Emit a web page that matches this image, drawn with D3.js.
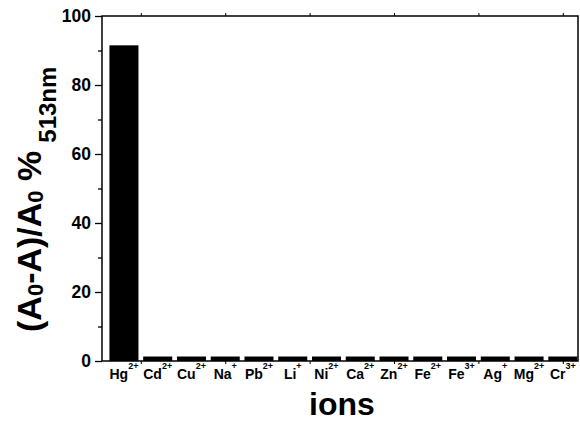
<!DOCTYPE html>
<html lang="en">
<head>
<meta charset="utf-8">
<title>Ion response bar chart</title>
<script src="https://d3js.org/d3.v7.min.js"></script>
<style>
  body { margin: 0; background: #fff; }
  text { font-family: Arial, "Liberation Sans", sans-serif; font-weight: bold; }
</style>
</head>
<body>
<script>
// ions on the x axis, with their charges as superscripts
const ions    = ["Hg", "Cd", "Cu", "Na", "Pb", "Li", "Ni", "Ca", "Zn", "Fe", "Fe", "Ag", "Mg", "Cr"];
const charges = ["2+", "2+", "2+", "+",  "2+", "+",  "2+", "2+", "2+", "2+", "3+", "+",  "2+", "3+"];
// (A0-A)/A0 % at 513 nm
const values  = [91.5, 1.3, 1.3, 1.3, 1.3, 1.3, 1.3, 1.3, 1.3, 1.3, 1.3, 1.3, 1.3, 1.3];
const yMajor  = [0, 20, 40, 60, 80, 100];
const yMinor  = [10, 30, 50, 70, 90];
const xFrameTicks = [0.5, 3, 5.5, 8, 10.5, 13];

const width = 580, height = 423;
const pLeft = 102, pRight = 578, pTop = 16, pBottom = 361;

const svg = d3.select("body").append("svg")
  .attr("width", width)
  .attr("height", height);

// bar index -> pixel
const x = d3.scaleLinear().domain([-0.65, 13.45]).range([pLeft, pRight]);
const y = d3.scaleLinear().domain([0, 100]).range([pBottom, pTop]);
const barW = x(0.86) - x(0);

// bars
svg.append("g").selectAll("rect")
  .data(values)
  .enter().append("rect")
    .attr("x", (d, i) => x(i) - barW / 2)
    .attr("y", d => y(d))
    .attr("width", barW)
    .attr("height", d => y(0) - y(d))
    .attr("fill", "#000");

// left axis, major + minor ticks
const yAx = svg.append("g").attr("transform", "translate(" + pLeft + ",0)")
  .call(d3.axisLeft(y).tickValues(yMajor).tickSize(7).tickPadding(4));
yAx.selectAll("text").attr("font-size", "17.5px").attr("fill", "#000");
svg.append("g").attr("transform", "translate(" + pLeft + ",0)")
  .call(d3.axisLeft(y).tickValues(yMinor).tickSize(4).tickFormat(""));
svg.selectAll(".domain").remove();
svg.selectAll(".tick line").attr("stroke", "#000").attr("stroke-width", 1.3);

// frame
svg.append("rect")
  .attr("x", pLeft).attr("y", pTop)
  .attr("width", pRight - pLeft).attr("height", pBottom - pTop)
  .attr("fill", "none").attr("stroke", "#000").attr("stroke-width", 1.5);

// small ticks on top and bottom edges
svg.append("g").attr("transform", "translate(0," + pTop + ")")
  .call(d3.axisTop(x).tickValues(xFrameTicks).tickSize(3).tickFormat(""))
  .select(".domain").remove();
svg.append("g").attr("transform", "translate(0," + pBottom + ")")
  .call(d3.axisBottom(x).tickValues(xFrameTicks).tickSize(3).tickFormat(""))
  .select(".domain").remove();

// x labels with superscript charge
const lab = svg.append("g").selectAll("text")
  .data(ions)
  .enter().append("text")
    .attr("x", (d, i) => x(i))
    .attr("y", 379)
    .attr("text-anchor", "middle")
    .attr("font-size", "14px")
    .attr("fill", "#000");
lab.append("tspan").text(d => d);
lab.append("tspan")
  .attr("dy", -10)
  .attr("font-size", "9px")
  .text((d, i) => charges[i]);

// x title
svg.append("text")
  .attr("x", 342).attr("y", 415)
  .attr("text-anchor", "middle")
  .attr("font-size", "32px")
  .attr("fill", "#000")
  .text("ions");

// y title
const yt = svg.append("text")
  .attr("transform", "translate(41,332) rotate(-90)")
  .attr("text-anchor", "start")
  .attr("font-size", "34px")
  .attr("fill", "#000");
yt.append("tspan").text("(A");
yt.append("tspan").attr("font-size", "22px").attr("dy", 2).text("0");
yt.append("tspan").attr("dy", -2).text("-A)/A");
yt.append("tspan").attr("font-size", "22px").attr("dy", 2).text("0");
yt.append("tspan").attr("dy", -2).text(" %");
yt.append("tspan").attr("font-size", "24px").attr("dx", 8).attr("dy", 15).text("513nm");
</script>
</body>
</html>
